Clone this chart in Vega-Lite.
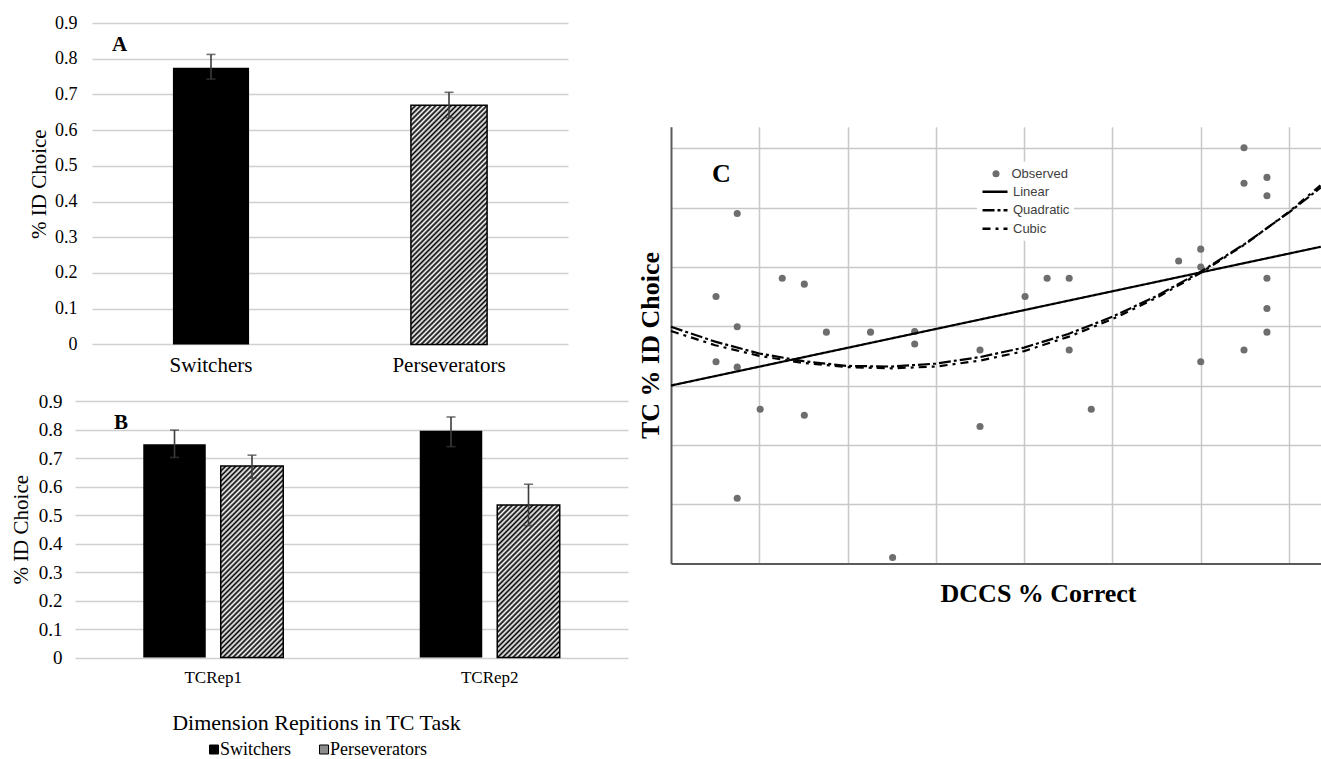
{
  "$schema": "https://vega.github.io/schema/vega-lite/v6.json",
  "background": "white",
  "padding": {"left": 10, "top": 14, "right": 0, "bottom": 0},
  "params": [
    {"name": "hatchStops", "value": [
      {"offset":0,"color":"#000"},{"offset":0.008,"color":"#fff"},{"offset":0.016,"color":"#000"},{"offset":0.024,"color":"#fff"},{"offset":0.032,"color":"#000"},{"offset":0.04,"color":"#fff"},{"offset":0.048,"color":"#000"},{"offset":0.056,"color":"#fff"},{"offset":0.064,"color":"#000"},{"offset":0.072,"color":"#fff"},
      {"offset":0.08,"color":"#000"},{"offset":0.088,"color":"#fff"},{"offset":0.096,"color":"#000"},{"offset":0.104,"color":"#fff"},{"offset":0.112,"color":"#000"},{"offset":0.12,"color":"#fff"},{"offset":0.128,"color":"#000"},{"offset":0.136,"color":"#fff"},{"offset":0.144,"color":"#000"},{"offset":0.152,"color":"#fff"},
      {"offset":0.16,"color":"#000"},{"offset":0.168,"color":"#fff"},{"offset":0.176,"color":"#000"},{"offset":0.184,"color":"#fff"},{"offset":0.192,"color":"#000"},{"offset":0.2,"color":"#fff"},{"offset":0.208,"color":"#000"},{"offset":0.216,"color":"#fff"},{"offset":0.224,"color":"#000"},{"offset":0.232,"color":"#fff"},
      {"offset":0.24,"color":"#000"},{"offset":0.248,"color":"#fff"},{"offset":0.256,"color":"#000"},{"offset":0.264,"color":"#fff"},{"offset":0.272,"color":"#000"},{"offset":0.28,"color":"#fff"},{"offset":0.288,"color":"#000"},{"offset":0.296,"color":"#fff"},{"offset":0.304,"color":"#000"},{"offset":0.312,"color":"#fff"},
      {"offset":0.32,"color":"#000"},{"offset":0.328,"color":"#fff"},{"offset":0.336,"color":"#000"},{"offset":0.344,"color":"#fff"},{"offset":0.352,"color":"#000"},{"offset":0.36,"color":"#fff"},{"offset":0.368,"color":"#000"},{"offset":0.376,"color":"#fff"},{"offset":0.384,"color":"#000"},{"offset":0.392,"color":"#fff"},
      {"offset":0.4,"color":"#000"},{"offset":0.408,"color":"#fff"},{"offset":0.416,"color":"#000"},{"offset":0.424,"color":"#fff"},{"offset":0.432,"color":"#000"},{"offset":0.44,"color":"#fff"},{"offset":0.448,"color":"#000"},{"offset":0.456,"color":"#fff"},{"offset":0.464,"color":"#000"},{"offset":0.472,"color":"#fff"},
      {"offset":0.48,"color":"#000"},{"offset":0.488,"color":"#fff"},{"offset":0.496,"color":"#000"},{"offset":0.504,"color":"#fff"},{"offset":0.512,"color":"#000"},{"offset":0.52,"color":"#fff"},{"offset":0.528,"color":"#000"},{"offset":0.536,"color":"#fff"},{"offset":0.544,"color":"#000"},{"offset":0.552,"color":"#fff"},
      {"offset":0.56,"color":"#000"},{"offset":0.568,"color":"#fff"},{"offset":0.576,"color":"#000"},{"offset":0.584,"color":"#fff"},{"offset":0.592,"color":"#000"},{"offset":0.6,"color":"#fff"},{"offset":0.608,"color":"#000"},{"offset":0.616,"color":"#fff"},{"offset":0.624,"color":"#000"},{"offset":0.632,"color":"#fff"},
      {"offset":0.64,"color":"#000"},{"offset":0.648,"color":"#fff"},{"offset":0.656,"color":"#000"},{"offset":0.664,"color":"#fff"},{"offset":0.672,"color":"#000"},{"offset":0.68,"color":"#fff"},{"offset":0.688,"color":"#000"},{"offset":0.696,"color":"#fff"},{"offset":0.704,"color":"#000"},{"offset":0.712,"color":"#fff"},
      {"offset":0.72,"color":"#000"},{"offset":0.728,"color":"#fff"},{"offset":0.736,"color":"#000"},{"offset":0.744,"color":"#fff"},{"offset":0.752,"color":"#000"},{"offset":0.76,"color":"#fff"},{"offset":0.768,"color":"#000"},{"offset":0.776,"color":"#fff"},{"offset":0.784,"color":"#000"},{"offset":0.792,"color":"#fff"},
      {"offset":0.8,"color":"#000"},{"offset":0.808,"color":"#fff"},{"offset":0.816,"color":"#000"},{"offset":0.824,"color":"#fff"},{"offset":0.832,"color":"#000"},{"offset":0.84,"color":"#fff"},{"offset":0.848,"color":"#000"},{"offset":0.856,"color":"#fff"},{"offset":0.864,"color":"#000"},{"offset":0.872,"color":"#fff"},
      {"offset":0.88,"color":"#000"},{"offset":0.888,"color":"#fff"},{"offset":0.896,"color":"#000"},{"offset":0.904,"color":"#fff"},{"offset":0.912,"color":"#000"},{"offset":0.92,"color":"#fff"},{"offset":0.928,"color":"#000"},{"offset":0.936,"color":"#fff"},{"offset":0.944,"color":"#000"},{"offset":0.952,"color":"#fff"},
      {"offset":0.96,"color":"#000"},{"offset":0.968,"color":"#fff"},{"offset":0.976,"color":"#000"},{"offset":0.984,"color":"#fff"},{"offset":0.992,"color":"#000"},{"offset":1,"color":"#fff"}
    ]},
    {"name": "hatchA", "expr": "{gradient: 'linear', x1: 0, y1: 0, x2: 0.3836, y2: 1.208, stops: hatchStops}"},
    {"name": "hatchB1", "expr": "{gradient: 'linear', x1: 0, y1: 0, x2: 0.4896, y2: 1.501, stops: hatchStops}"},
    {"name": "hatchB2", "expr": "{gradient: 'linear', x1: 0, y1: 0, x2: 0.7322, y2: 1.7865, stops: hatchStops}"}
  ],
  "datasets": {
    "panelA": [
      {"group": "Switchers", "v": 0.775, "lo": 0.743, "hi": 0.812},
      {"group": "Perseverators", "v": 0.67, "lo": 0.635, "hi": 0.706}
    ],
    "panelB": [
      {"rep": "TCRep1", "group": "Switchers", "v": 0.748, "lo": 0.702, "hi": 0.798},
      {"rep": "TCRep1", "group": "Perseverators", "v": 0.672, "lo": 0.629, "hi": 0.71},
      {"rep": "TCRep2", "group": "Switchers", "v": 0.796, "lo": 0.74, "hi": 0.844},
      {"rep": "TCRep2", "group": "Perseverators", "v": 0.535, "lo": 0.463, "hi": 0.608}
    ],
    "observed": [
      {"x":0.51,"y":4.5},{"x":0.75,"y":5.9},{"x":0.75,"y":3.99},{"x":0.51,"y":3.4},{"x":0.75,"y":3.31},{"x":1.01,"y":2.6},{"x":0.75,"y":1.1},{"x":1.26,"y":4.81},{"x":1.51,"y":4.71},{"x":1.51,"y":2.5},{"x":1.76,"y":3.9},{"x":2.26,"y":3.9},{"x":2.51,"y":0.1},{"x":2.76,"y":3.91},{"x":2.76,"y":3.7},{"x":3.5,"y":3.6},{"x":3.5,"y":2.31},{"x":4.01,"y":4.5},{"x":4.26,"y":4.81},{"x":4.51,"y":4.81},{"x":4.51,"y":3.6},{"x":4.76,"y":2.6},{"x":5.75,"y":5.1},{"x":6.0,"y":5.3},{"x":6.0,"y":5.0},{"x":6.0,"y":3.4},{"x":6.49,"y":7.01},{"x":6.49,"y":6.41},{"x":6.49,"y":3.6},{"x":6.75,"y":6.51},{"x":6.75,"y":6.2},{"x":6.75,"y":4.81},{"x":6.75,"y":4.3},{"x":6.75,"y":3.9}
    ],
    "fits": [
      {"fit":"Linear","x":0,"y":3.0},{"fit":"Linear","x":7.36,"y":5.34},
      {"fit":"Quadratic","x":0,"y":3.99},{"fit":"Quadratic","x":0.5,"y":3.74},{"fit":"Quadratic","x":1,"y":3.54},{"fit":"Quadratic","x":1.5,"y":3.41},{"fit":"Quadratic","x":2,"y":3.33},{"fit":"Quadratic","x":2.5,"y":3.32},{"fit":"Quadratic","x":3,"y":3.37},{"fit":"Quadratic","x":3.5,"y":3.48},{"fit":"Quadratic","x":4,"y":3.64},{"fit":"Quadratic","x":4.5,"y":3.87},{"fit":"Quadratic","x":5,"y":4.16},{"fit":"Quadratic","x":5.5,"y":4.51},{"fit":"Quadratic","x":6,"y":4.92},{"fit":"Quadratic","x":6.5,"y":5.39},{"fit":"Quadratic","x":7,"y":5.92},{"fit":"Quadratic","x":7.36,"y":6.34},
      {"fit":"Cubic","x":0,"y":3.92},{"fit":"Cubic","x":0.5,"y":3.68},{"fit":"Cubic","x":1,"y":3.5},{"fit":"Cubic","x":1.5,"y":3.38},{"fit":"Cubic","x":2,"y":3.31},{"fit":"Cubic","x":2.5,"y":3.29},{"fit":"Cubic","x":3,"y":3.32},{"fit":"Cubic","x":3.5,"y":3.42},{"fit":"Cubic","x":4,"y":3.58},{"fit":"Cubic","x":4.5,"y":3.82},{"fit":"Cubic","x":5,"y":4.12},{"fit":"Cubic","x":5.5,"y":4.48},{"fit":"Cubic","x":6,"y":4.9},{"fit":"Cubic","x":6.5,"y":5.38},{"fit":"Cubic","x":7,"y":5.93},{"fit":"Cubic","x":7.36,"y":6.38}
    ],
    "clabel": [{"label": "C", "x": 0.572, "y": 6.56}]
  },
  "hconcat": [
    {
      "spacing": 16,
      "resolve": {"legend": {"color": "independent"}},
      "vconcat": [
        {
          "width": 476,
          "height": 321.4,
          "data": {"name": "panelA"},
          "title": {"text": "A", "anchor": "start", "frame": "group", "offset": -31, "dy": 27, "dx": 20, "font": "Liberation Serif", "fontSize": 21, "fontWeight": "bold", "color": "#000", "baseline": "alphabetic"},
          "encoding": {
            "x": {"field": "group", "type": "nominal", "scale": {"domain": ["Switchers", "Perseverators"], "paddingInner": 0, "paddingOuter": 0},
                  "axis": {"title": null, "labelFontSize": 21, "labelPadding": 10, "labelAngle": 0, "grid": false}}
          },
          "layer": [
            {"mark": {"type": "bar", "color": "#000", "width": {"band": 0.32}},
             "encoding": {"y": {"field": "v", "type": "quantitative", "scale": {"domain": [0, 0.9], "nice": false},
               "axis": {"title": "% ID Choice", "titleFontSize": 21, "titlePadding": 5, "labelFontSize": 18, "labelPadding": 15, "values": [0, 0.1, 0.2, 0.3, 0.4, 0.5, 0.6, 0.7, 0.8, 0.9], "format": ".1~f", "grid": true, "labelOverlap": false}}}},
            {"transform": [{"filter": "datum.group === 'Perseverators'"}],
             "mark": {"type": "bar", "fill": {"expr": "hatchA"}, "stroke": "#000", "strokeWidth": 1.5, "width": {"band": 0.32}},
             "encoding": {"y": {"field": "v", "type": "quantitative", "scale": {"domain": [0, 0.9], "nice": false},
               "axis": {"title": "% ID Choice", "titleFontSize": 21, "titlePadding": 5, "labelFontSize": 18, "labelPadding": 15, "values": [0, 0.1, 0.2, 0.3, 0.4, 0.5, 0.6, 0.7, 0.8, 0.9], "format": ".1~f", "grid": true, "labelOverlap": false}}}},
            {"mark": {"type": "rule", "color": "#3c3c3c", "strokeWidth": 1.6},
             "encoding": {"y": {"field": "lo", "type": "quantitative", "scale": {"domain": [0, 0.9], "nice": false},
               "axis": {"title": "% ID Choice", "titleFontSize": 21, "titlePadding": 5, "labelFontSize": 18, "labelPadding": 15, "values": [0, 0.1, 0.2, 0.3, 0.4, 0.5, 0.6, 0.7, 0.8, 0.9], "format": ".1~f", "grid": true, "labelOverlap": false}}, "y2": {"field": "hi"}}},
            {"mark": {"type": "tick", "color": "#3c3c3c", "size": 9, "thickness": 1.6},
             "encoding": {"y": {"field": "lo", "type": "quantitative", "scale": {"domain": [0, 0.9], "nice": false},
               "axis": {"title": "% ID Choice", "titleFontSize": 21, "titlePadding": 5, "labelFontSize": 18, "labelPadding": 15, "values": [0, 0.1, 0.2, 0.3, 0.4, 0.5, 0.6, 0.7, 0.8, 0.9], "format": ".1~f", "grid": true, "labelOverlap": false}}}},
            {"mark": {"type": "tick", "color": "#3c3c3c", "size": 9, "thickness": 1.6},
             "encoding": {"y": {"field": "hi", "type": "quantitative", "scale": {"domain": [0, 0.9], "nice": false},
               "axis": {"title": "% ID Choice", "titleFontSize": 21, "titlePadding": 5, "labelFontSize": 18, "labelPadding": 15, "values": [0, 0.1, 0.2, 0.3, 0.4, 0.5, 0.6, 0.7, 0.8, 0.9], "format": ".1~f", "grid": true, "labelOverlap": false}}}}
          ]
        },
        {
          "width": 536,
          "height": 256.6,
          "data": {"name": "panelB"},
          "title": {"text": "B", "anchor": "start", "frame": "group", "offset": -26, "dy": 32, "dx": 22, "font": "Liberation Serif", "fontSize": 21, "fontWeight": "bold", "color": "#000", "baseline": "alphabetic"},
          "encoding": {
            "x": {"field": "rep", "type": "nominal", "scale": {"domain": ["TCRep1", "TCRep2"], "range": [-17, 536], "paddingInner": 0, "paddingOuter": 0},
                  "axis": {"title": "Dimension Repitions in TC Task", "titleFontSize": 22, "titlePadding": 27, "titleX": 224, "labelFontSize": 17, "labelPadding": 12, "labelAngle": 0, "grid": false}},
            "xOffset": {"field": "group", "type": "nominal", "scale": {"domain": ["Switchers", "Perseverators"], "paddingInner": 0.1935, "paddingOuter": 0.881}}
          },
          "layer": [
            {"mark": {"type": "bar"},
             "encoding": {
               "y": {"field": "v", "type": "quantitative", "scale": {"domain": [0, 0.9], "nice": false},
                 "axis": {"title": "% ID Choice", "titleFontSize": 21, "titlePadding": 7, "labelFontSize": 19, "labelPadding": 30, "values": [0, 0.1, 0.2, 0.3, 0.4, 0.5, 0.6, 0.7, 0.8, 0.9], "format": ".1~f", "grid": true, "labelOverlap": false}},
               "color": {"field": "group", "type": "nominal", "scale": {"domain": ["Switchers", "Perseverators"], "range": ["#000000", "#8c8c8c"]},
                 "legend": {"orient": "none", "legendX": 113, "legendY": 339.5, "direction": "horizontal", "title": null, "symbolType": "square", "symbolSize": 81, "symbolStrokeColor": "#000", "symbolStrokeWidth": 1, "labelFont": "Liberation Serif", "labelFontSize": 18, "labelColor": "#000", "labelOffset": -3, "columnPadding": 24, "padding": 0}}
             }},
            {"transform": [{"filter": "datum.rep === 'TCRep1' && datum.group === 'Perseverators'"}],
             "mark": {"type": "bar", "fill": {"expr": "hatchB1"}, "stroke": "#000", "strokeWidth": 1.5},
             "encoding": {"y": {"field": "v", "type": "quantitative", "scale": {"domain": [0, 0.9], "nice": false},
               "axis": {"title": "% ID Choice", "titleFontSize": 21, "titlePadding": 7, "labelFontSize": 19, "labelPadding": 30, "values": [0, 0.1, 0.2, 0.3, 0.4, 0.5, 0.6, 0.7, 0.8, 0.9], "format": ".1~f", "grid": true, "labelOverlap": false}}}},
            {"transform": [{"filter": "datum.rep === 'TCRep2' && datum.group === 'Perseverators'"}],
             "mark": {"type": "bar", "fill": {"expr": "hatchB2"}, "stroke": "#000", "strokeWidth": 1.5},
             "encoding": {"y": {"field": "v", "type": "quantitative", "scale": {"domain": [0, 0.9], "nice": false},
               "axis": {"title": "% ID Choice", "titleFontSize": 21, "titlePadding": 7, "labelFontSize": 19, "labelPadding": 30, "values": [0, 0.1, 0.2, 0.3, 0.4, 0.5, 0.6, 0.7, 0.8, 0.9], "format": ".1~f", "grid": true, "labelOverlap": false}}}},
            {"mark": {"type": "rule", "color": "#3c3c3c", "strokeWidth": 1.6},
             "encoding": {"y": {"field": "lo", "type": "quantitative", "scale": {"domain": [0, 0.9], "nice": false},
               "axis": {"title": "% ID Choice", "titleFontSize": 21, "titlePadding": 7, "labelFontSize": 19, "labelPadding": 30, "values": [0, 0.1, 0.2, 0.3, 0.4, 0.5, 0.6, 0.7, 0.8, 0.9], "format": ".1~f", "grid": true, "labelOverlap": false}}, "y2": {"field": "hi"}}},
            {"mark": {"type": "tick", "color": "#3c3c3c", "size": 9, "thickness": 1.6},
             "encoding": {"y": {"field": "lo", "type": "quantitative", "scale": {"domain": [0, 0.9], "nice": false},
               "axis": {"title": "% ID Choice", "titleFontSize": 21, "titlePadding": 7, "labelFontSize": 19, "labelPadding": 30, "values": [0, 0.1, 0.2, 0.3, 0.4, 0.5, 0.6, 0.7, 0.8, 0.9], "format": ".1~f", "grid": true, "labelOverlap": false}}}},
            {"mark": {"type": "tick", "color": "#3c3c3c", "size": 9, "thickness": 1.6},
             "encoding": {"y": {"field": "hi", "type": "quantitative", "scale": {"domain": [0, 0.9], "nice": false},
               "axis": {"title": "% ID Choice", "titleFontSize": 21, "titlePadding": 7, "labelFontSize": 19, "labelPadding": 30, "values": [0, 0.1, 0.2, 0.3, 0.4, 0.5, 0.6, 0.7, 0.8, 0.9], "format": ".1~f", "grid": true, "labelOverlap": false}}}}
          ]
        }
      ]
    },
    {
      "width": 650,
      "height": 540.4,
      "resolve": {"legend": {"shape": "independent", "strokeDash": "independent"}, "axis": {"x": "independent"}},
      "layer": [
        {"data": {"name": "observed"},
         "mark": {"type": "point", "filled": true, "size": 50, "color": "#6e6e6e", "opacity": 1},
         "encoding": {
           "x": {"field": "x", "type": "quantitative", "scale": {"domain": [0, 7.362], "nice": false, "zero": false},
             "axis": {"orient": "bottom", "title": "DCCS % Correct", "titleFontSize": 26, "titleFontWeight": "bold", "titlePadding": 17, "titleX": 367, "labels": false, "ticks": false, "domain": true, "domainColor": "#5a5a5a", "domainWidth": 2, "grid": false, "values": [1, 2, 3, 4, 5, 6, 7]}},
           "y": {"field": "y", "type": "quantitative", "scale": {"domain": [0, 7.365], "nice": false, "zero": false, "range": [540.4, 103.7]},
             "axis": {"title": "TC % ID Choice", "titleFontSize": 26, "titleFontWeight": "bold", "titlePadding": 8, "labels": false, "ticks": false, "domain": true, "domainColor": "#5a5a5a", "domainWidth": 2, "grid": true, "gridColor": "#c8c8c8", "gridWidth": 1.5, "values": [1, 2, 3, 4, 5, 6, 7]}},
           "shape": {"datum": "Observed", "scale": {"domain": ["Observed"], "range": ["circle"]},
             "legend": {"orient": "none", "legendX": 306, "legendY": 138.7, "title": null, "symbolSize": 50, "symbolFillColor": "#6e6e6e", "symbolStrokeWidth": 0, "symbolOffset": 8.5, "labelOffset": 9, "clipHeight": 16, "labelFont": "'Liberation Sans Narrow', 'Liberation Sans', Arial, sans-serif", "labelFontSize": 13, "labelColor": "#404040", "fillColor": "#ffffff", "padding": 4}}
         }},
        {"data": {"name": "fits"},
         "mark": {"type": "line", "color": "#000", "strokeWidth": 2.2},
         "encoding": {
           "x": {"field": "x", "type": "quantitative", "scale": {"domain": [0, 7.362], "nice": false, "zero": false},
             "axis": {"orient": "top", "title": null, "labels": false, "ticks": false, "domain": false, "grid": true, "gridColor": "#c8c8c8", "gridWidth": 1.5, "values": [1, 2, 3, 4, 5, 6, 7]}},
           "y": {"field": "y", "type": "quantitative", "scale": {"domain": [0, 7.365], "nice": false, "zero": false, "range": [540.4, 103.7]}},
           "strokeDash": {"field": "fit", "type": "nominal", "scale": {"domain": ["Linear", "Quadratic", "Cubic"], "range": [[1, 0], [12, 3, 3, 3], [8, 5, 3, 5]]},
             "legend": {"orient": "none", "legendX": 306, "legendY": 156.7, "title": null, "symbolType": "stroke", "symbolSize": 625, "symbolStrokeColor": "#000", "symbolStrokeWidth": 2.5, "labelOffset": 4, "clipHeight": 16, "rowPadding": 2.5, "labelFont": "'Liberation Sans Narrow', 'Liberation Sans', Arial, sans-serif", "labelFontSize": 13, "labelColor": "#404040", "fillColor": "#ffffff", "padding": 4}}
         }},
        {"data": {"name": "clabel"},
         "mark": {"type": "text", "font": "Liberation Serif", "fontSize": 26, "fontWeight": "bold", "color": "#000", "align": "center", "baseline": "middle"},
         "encoding": {
           "x": {"field": "x", "type": "quantitative", "scale": {"domain": [0, 7.362], "nice": false, "zero": false}, "axis": null},
           "y": {"field": "y", "type": "quantitative", "scale": {"domain": [0, 7.365], "nice": false, "zero": false, "range": [540.4, 103.7]}},
           "text": {"field": "label"}
         }}
      ]
    }
  ],
  "spacing": -8,
  "resolve": {"legend": {"color": "independent", "shape": "independent", "strokeDash": "independent"}},
  "config": {
    "view": {"stroke": null},
    "axis": {"labelFont": "Liberation Serif", "titleFont": "Liberation Serif", "labelColor": "#000", "titleColor": "#000", "titleFontWeight": "normal", "domain": false, "ticks": false, "gridColor": "#d0d0d0", "gridWidth": 1.5}
  }
}
